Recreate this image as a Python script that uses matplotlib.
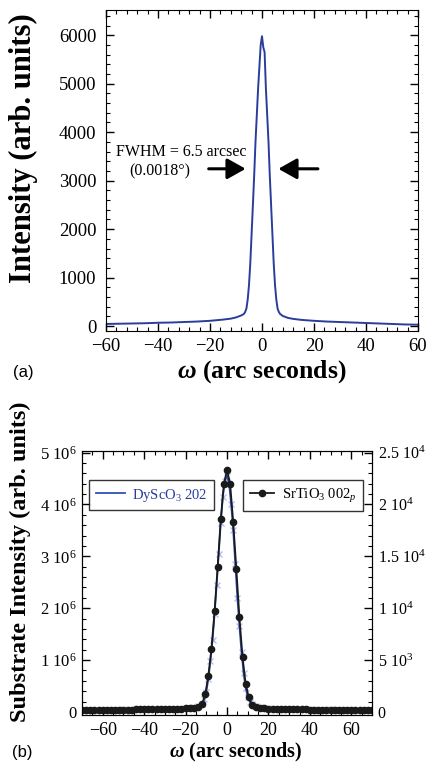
import numpy as np
import matplotlib
matplotlib.use("Agg")
import matplotlib.pyplot as plt
from matplotlib.ticker import FixedLocator, FixedFormatter, MultipleLocator

plt.rcParams['font.family'] = ['Liberation Serif', 'DejaVu Serif']
plt.rcParams['mathtext.fontset'] = 'custom'
plt.rcParams['mathtext.rm'] = 'Liberation Serif'
plt.rcParams['mathtext.it'] = 'Liberation Serif:italic'
plt.rcParams['mathtext.bf'] = 'Liberation Serif:bold'
plt.rcParams['mathtext.bfit'] = 'Liberation Serif:italic:bold'

# (a) rocking curve
omega_a = [-60, -55, -50, -45, -40, -35, -30, -25, -20, -15, -12, -10, -8, -7,
           -6.5, -6, -5.5, -5, -4.5, -4, -3.5, -3, -2.5, -2, -1.5, -1, -0.5, 0,
           0.5, 1, 1.5, 2, 2.5, 3, 3.5, 4, 4.5, 5, 5.5, 6, 6.5, 7, 8, 10, 12,
           15, 20, 25, 30, 35, 40, 45, 50, 55, 60]
intens_a = [45, 50, 55, 60, 70, 75, 85, 95, 110, 135, 155, 180, 220, 250,
            290, 360, 550, 850, 1300, 1900, 2500, 3120, 3800, 4350, 4900, 5350, 5800, 5980,
            5750, 5650, 4900, 4350, 3800, 3100, 2500, 1900, 1300, 850, 550, 360, 290, 250, 210, 170, 150,
            130, 110, 95, 85, 75, 65, 55, 45, 35, 30]

# (b) DyScO3 202 (left axis, 10^6 units)
omega_dso = [-70, -60, -50, -40, -30, -25, -20, -16, -14, -12, -11, -10, -9, -8, -7, -6,
             -5, -4, -3, -2, -1, 0, 1, 2, 3, 4, 5, 6, 7, 8, 9, 10, 11, 12, 14, 16,
             20, 25, 30, 40, 50, 60, 70]
intens_dso = [0.04, 0.045, 0.05, 0.055, 0.06, 0.065, 0.075, 0.09, 0.11, 0.16, 0.25, 0.38, 0.64,
              0.98, 1.38, 1.88, 2.45, 3.05, 3.65, 4.15, 4.45, 4.55, 4.4, 4.0, 3.5, 2.85, 2.2,
              1.65, 1.15, 0.75, 0.46, 0.29, 0.2, 0.15, 0.11, 0.09, 0.075, 0.065, 0.06, 0.055,
              0.05, 0.045, 0.04]

# (b) SrTiO3 002p (right axis)
omega_sto = [-70, -68, -66, -64, -62, -60, -58, -56, -54, -52, -50, -48, -46, -44, -42,
             -40, -38, -36, -34, -32, -30, -28, -26, -24, -22, -20, -18, -16, -14,
             -12, -10.5, -9, -7.5, -6, -4.5, -3, -1.5, 0, 1.5, 3, 4.5, 6, 7.5, 9, 10.5, 12,
             14, 16, 18, 20, 22, 24, 26, 28, 30, 32, 34, 36, 38, 40, 42, 44, 46, 48, 50,
             52, 54, 56, 58, 60, 62, 64, 66, 68, 70]
intens_sto = [200, 200, 205, 205, 210, 210, 215, 215, 220, 220, 225, 230, 230, 235, 240,
              245, 250, 255, 260, 265, 270, 280, 290, 300, 315, 330, 360, 400, 480,
              750, 1700, 3500, 6100, 9700, 14000, 18600, 22000, 23300, 22000, 18300, 13800,
              9100, 5300, 2700, 1400, 700,
              470, 390, 350, 320, 300, 285, 275, 265, 255, 250, 245, 240, 235, 230, 225,
              220, 220, 215, 215, 210, 210, 205, 205, 200, 200, 200, 195, 195, 195]

a_xticks = [-60, -40, -20, 0, 20, 40, 60]
a_yticks = [0, 1000, 2000, 3000, 4000, 5000, 6000]
b_xticks = [-60, -40, -20, 0, 20, 40, 60]
b_left_ticks = [0, 1e6, 2e6, 3e6, 4e6, 5e6]
b_left_labels = ['0', '1 10$^6$', '2 10$^6$', '3 10$^6$', '4 10$^6$', '5 10$^6$']
b_right_ticks = [0, 5e3, 1e4, 1.5e4, 2e4, 2.5e4]
b_right_labels = ['0', '5 10$^3$', '1 10$^4$', '1.5 10$^4$', '2 10$^4$', '2.5 10$^4$']

W, H = 428, 774
fig = plt.figure(figsize=(W / 100, H / 100), dpi=100)

def box(l, t, r, b):
    return [l / W, 1 - b / H, (r - l) / W, (b - t) / H]

blue = '#2b3d9c'

# ---------- panel (a)
ax = fig.add_axes(box(106, 10, 418, 331))
ax.plot(omega_a, intens_a, color=blue, lw=1.4)
ax.set_xlim(-60, 60)
ax.set_ylim(-100, 6520)
ax.xaxis.set_major_locator(FixedLocator(a_xticks))
ax.xaxis.set_minor_locator(MultipleLocator(4))
ax.yaxis.set_major_locator(FixedLocator(a_yticks))
ax.yaxis.set_minor_locator(MultipleLocator(200))
ax.tick_params(which='both', direction='in', top=True, right=True, labelsize=13.5)
ax.tick_params(which='major', length=6, width=1)
ax.tick_params(which='minor', length=3, width=0.8)
ax.tick_params(axis='y', pad=7)
ax.tick_params(axis='x', pad=5)

arrow_style = dict(arrowstyle='-|>,head_length=0.8,head_width=0.45',
                   lw=2.2, color='black', mutation_scale=14, shrinkA=0, shrinkB=0)
ax.annotate('', xy=(-6.3, 3245), xytext=(-20.5, 3245), arrowprops=arrow_style)
ax.annotate('', xy=(6.3, 3245), xytext=(21.5, 3245), arrowprops=arrow_style)
ax.text(-31.2, 3600, 'FWHM = 6.5 arcsec', fontsize=11.5, ha='center', va='center')
ax.text(-39.2, 3200, '(0.0018°)', fontsize=11.5, ha='center', va='center')

fig.text(23 / W, 1 - 148 / H, 'Intensity (arb. units)', rotation=90, fontsize=22,
         fontweight='bold', ha='center', va='center')
fig.text(262 / W, 1 - 372 / H, r'$\mathbfit{\omega}$ (arc seconds)', fontsize=18.5,
         fontweight='bold', ha='center', va='center')
fig.text(23 / W, 1 - 372 / H, '(a)', fontsize=12, family='Liberation Sans',
         ha='center', va='center')

# ---------- panel (b)
axb = fig.add_axes(box(82, 451, 372, 715))
axb.plot(omega_dso, np.array(intens_dso) * 1e6, ls='none', marker='x', ms=5,
         mew=1, color='#b4c0ec', zorder=1)
line_dso, = axb.plot(omega_dso, np.array(intens_dso) * 1e6, color='#3050b8', lw=1.3,
                     zorder=2, label='DyScO$_3$ 202')
axb.set_xlim(-70, 70)
axb.set_ylim(-0.06e6, 5.03e6)
axb.xaxis.set_major_locator(FixedLocator(b_xticks))
axb.xaxis.set_minor_locator(MultipleLocator(5))
axb.yaxis.set_major_locator(FixedLocator(b_left_ticks))
axb.yaxis.set_major_formatter(FixedFormatter(b_left_labels))
axb.yaxis.set_minor_locator(MultipleLocator(0.2e6))
axb.tick_params(which='both', direction='in', top=True, right=False)
axb.tick_params(axis='x', labelsize=13, pad=5)
axb.tick_params(axis='y', labelsize=12, pad=4)
axb.tick_params(which='major', length=6, width=1)
axb.tick_params(which='minor', length=3, width=0.8)

ax2 = axb.twinx()
line_sto, = ax2.plot(omega_sto, intens_sto, color='#1a1a1a', lw=1.3, marker='o', ms=4.5,
                     label='SrTiO$_3$ 002$_p$')
ax2.set_ylim(-300, 25150)
ax2.yaxis.set_major_locator(FixedLocator(b_right_ticks))
ax2.yaxis.set_major_formatter(FixedFormatter(b_right_labels))
ax2.yaxis.set_minor_locator(MultipleLocator(1000))
ax2.tick_params(which='both', direction='in', labelsize=11.5)
ax2.tick_params(which='major', length=6, width=1)
ax2.tick_params(which='minor', length=3, width=0.8)
ax2.tick_params(axis='y', pad=4)

leg1 = ax2.legend(handles=[line_dso], loc='upper left', bbox_to_anchor=(0.024, 0.89),
                  fontsize=10.5, frameon=True, fancybox=False, edgecolor='black',
                  handlelength=2.0, handletextpad=0.5, borderpad=0.45,
                  borderaxespad=0, labelcolor=['#2b3d9c'])
leg1.get_frame().set_linewidth(1)
ax2.add_artist(leg1)
leg2 = ax2.legend(handles=[line_sto], loc='upper right', bbox_to_anchor=(0.969, 0.89),
                  fontsize=10.5, frameon=True, fancybox=False, edgecolor='black',
                  handlelength=1.7, handletextpad=0.5, borderpad=0.45, numpoints=1,
                  borderaxespad=0)
leg2.get_frame().set_linewidth(1)

fig.text(20 / W, 1 - 562 / H, 'Substrate Intensity (arb. units)', rotation=90,
         fontsize=17.5, fontweight='bold', ha='center', va='center')
fig.text(235 / W, 1 - 752 / H, r'$\mathbfit{\omega}$ (arc seconds)', fontsize=14.5,
         fontweight='bold', ha='center', va='center')
fig.text(22 / W, 1 - 752 / H, '(b)', fontsize=12, family='Liberation Sans',
         ha='center', va='center')

fig.savefig('out.png', dpi=100)
